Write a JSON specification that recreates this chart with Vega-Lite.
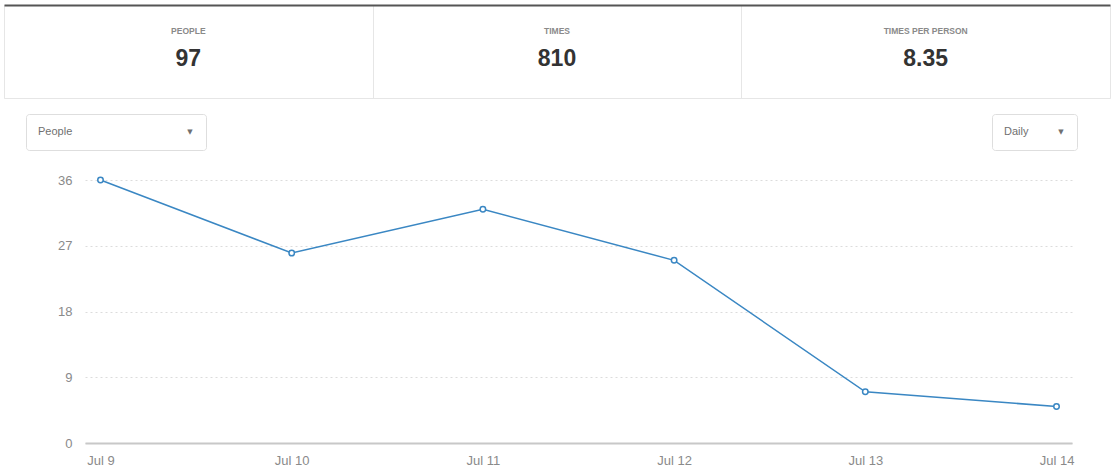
{
  "$schema": "https://vega.github.io/schema/vega-lite/v6.json",
  "background": "white",
  "padding": {"left": 3, "top": 4, "right": 0, "bottom": 0},
  "config": {
    "font": "Liberation Sans",
    "view": {"stroke": null}
  },
  "columns": 1,
  "align": "none",
  "spacing": {"row": 23, "column": 0},
  "concat": [
    {
      "columns": 1,
      "align": "none",
      "spacing": {"row": 14, "column": 0},
      "concat": [
        {
          "width": 1106,
          "height": 93,
          "view": {"stroke": "#e6e6e6"},
          "data": {"values": [
            {"metric": "PEOPLE", "value": "97"},
            {"metric": "TIMES", "value": "810"},
            {"metric": "TIMES PER PERSON", "value": "8.35"}
          ]},
          "encoding": {
            "x": {"field": "metric", "type": "nominal", "sort": null,
              "scale": {"paddingInner": 0, "paddingOuter": 0},
              "axis": {"orient": "top", "labels": false, "ticks": false, "title": null,
                "domainColor": "#555555", "domainWidth": 2,
                "grid": true, "gridColor": "#e6e6e6", "tickBand": "extent"}}
          },
          "layer": [
            {"mark": {"type": "text", "fontSize": 8.5, "fontWeight": "bold", "color": "#8a8a8a", "baseline": "middle", "dy": -20.5},
             "encoding": {"text": {"field": "metric"}}},
            {"mark": {"type": "text", "fontSize": 23, "fontWeight": "bold", "color": "#333333", "baseline": "middle", "dy": 7},
             "encoding": {"text": {"field": "value"}}}
          ]
        },
        {
          "columns": 3,
          "align": "none",
          "spacing": {"row": 0, "column": 0},
          "concat": [
            {
              "width": 1,
              "height": 36,
              "data": {"values": []},
              "mark": {"type": "point", "opacity": 0},
              "encoding": {}
            },
            {
              "width": 180,
              "height": 36,
              "view": {"stroke": "#dedede", "cornerRadius": 3},
              "data": {"values": [{"control": "People", "caret": "▼"}]},
              "encoding": {
                "y": {"field": "control", "type": "nominal",
                  "axis": {"labels": false, "ticks": false, "domain": false, "grid": false, "title": null, "minExtent": 20}}
              },
              "layer": [
                {"mark": {"type": "text", "fontSize": 11, "color": "#707070", "align": "left", "baseline": "middle", "dx": -78},
                 "encoding": {"text": {"field": "control"}}},
                {"mark": {"type": "text", "font": "DejaVu Sans", "fontSize": 7, "color": "#707070", "align": "center", "baseline": "middle", "dx": 74},
                 "encoding": {"text": {"field": "caret"}}}
              ]
            },
            {
              "width": 85,
              "height": 36,
              "view": {"stroke": "#dedede", "cornerRadius": 3},
              "data": {"values": [{"control": "Daily", "caret": "▼"}]},
              "encoding": {
                "y": {"field": "control", "type": "nominal",
                  "axis": {"labels": false, "ticks": false, "domain": false, "grid": false, "title": null, "minExtent": 784}}
              },
              "layer": [
                {"mark": {"type": "text", "fontSize": 11, "color": "#707070", "align": "left", "baseline": "middle", "dx": -30.5},
                 "encoding": {"text": {"field": "control"}}},
                {"mark": {"type": "text", "font": "DejaVu Sans", "fontSize": 7, "color": "#707070", "align": "center", "baseline": "middle", "dx": 26.5},
                 "encoding": {"text": {"field": "caret"}}}
              ]
            }
          ]
        }
      ]
    },
    {
      "columns": 2,
      "align": "none",
      "spacing": {"row": 0, "column": 0},
      "concat": [
        {
          "width": 1,
          "height": 263,
          "data": {"values": []},
          "mark": {"type": "point", "opacity": 0},
          "encoding": {}
        },
        {
          "width": 987,
          "height": 263,
          "data": {"values": [
            {"date": "Jul 9", "people": 36},
            {"date": "Jul 10", "people": 26},
            {"date": "Jul 11", "people": 32},
            {"date": "Jul 12", "people": 25},
            {"date": "Jul 13", "people": 7},
            {"date": "Jul 14", "people": 5}
          ]},
          "encoding": {
            "x": {"field": "date", "type": "ordinal", "sort": null,
              "scale": {"type": "point", "padding": 0.081},
              "axis": {"labelAngle": 0, "title": null, "ticks": false, "domainColor": "#c8c8c8", "domainWidth": 2,
                "labelFontSize": 13, "labelColor": "#8a8a8a", "labelPadding": 11, "grid": false}},
            "y": {"field": "people", "type": "quantitative",
              "scale": {"domain": [0, 36], "nice": false},
              "axis": {"values": [0, 9, 18, 27, 36], "title": null, "ticks": false, "domain": false,
                "labelFontSize": 13, "labelColor": "#8a8a8a", "labelPadding": 13,
                "gridColor": "#dcdcdc", "gridDash": [2, 3], "minExtent": 80}}
          },
          "layer": [
            {"mark": {"type": "line", "color": "#3a87c3", "strokeWidth": 1.5}},
            {"mark": {"type": "point", "filled": true, "fill": "white", "stroke": "#3a87c3", "strokeWidth": 1.5, "size": 30, "opacity": 1}}
          ]
        }
      ]
    }
  ]
}
